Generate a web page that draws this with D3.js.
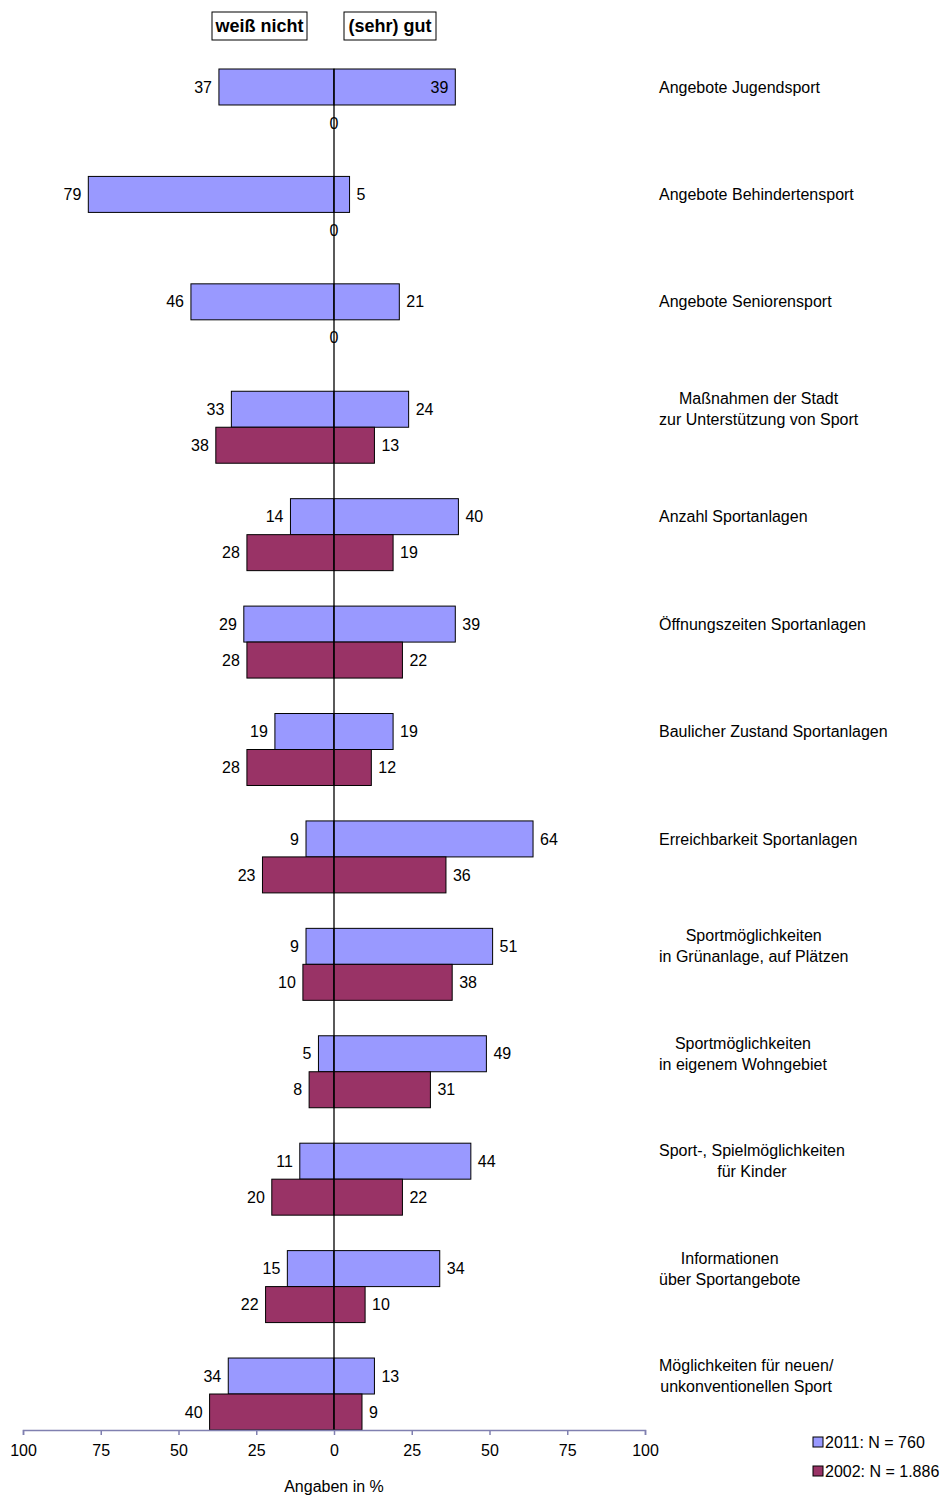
<!DOCTYPE html>
<html>
<head>
<meta charset="utf-8">
<script src="https://cdn.jsdelivr.net/npm/d3@7"></script>
<style>
  body { margin: 0; background: #fff; }
  text { font-family: "Liberation Sans", Arial, sans-serif; fill: #000; }
</style>
</head>
<body>
<div id="chart"></div>
<script>
// categories (label lines split by \n)
const categories = [
  "Angebote Jugendsport",
  "Angebote Behindertensport",
  "Angebote Seniorensport",
  "Maßnahmen der Stadt\nzur Unterstützung von Sport",
  "Anzahl Sportanlagen",
  "Öffnungszeiten Sportanlagen",
  "Baulicher Zustand Sportanlagen",
  "Erreichbarkeit Sportanlagen",
  "Sportmöglichkeiten\nin Grünanlage, auf Plätzen",
  "Sportmöglichkeiten\nin eigenem Wohngebiet",
  "Sport-, Spielmöglichkeiten\nfür Kinder",
  "Informationen\nüber Sportangebote",
  "Möglichkeiten für neuen/\nunkonventionellen Sport"
];
// "weiß nicht" (left) and "(sehr) gut" (right), in %
const weissNicht2011 = [37, 79, 46, 33, 14, 29, 19, 9, 9, 5, 11, 15, 34];
const gut2011        = [39, 5, 21, 24, 40, 39, 19, 64, 51, 49, 44, 34, 13];
const weissNicht2002 = [null, null, null, 38, 28, 28, 28, 23, 10, 8, 20, 22, 40];
const gut2002        = [null, null, null, 13, 19, 22, 12, 36, 38, 31, 22, 10, 9];
const xTicks = [-100, -75, -50, -25, 0, 25, 50, 75, 100];
const seriesNames = ["2011: N = 760", "2002: N = 1.886"];
const colors = ["#9999ff", "#993366"];

const width = 942, height = 1495;
const svg = d3.select("#chart").append("svg")
  .attr("width", width).attr("height", height);

const x = d3.scaleLinear().domain([-100, 100]).range([23, 645]);
const y = d3.scaleBand().domain(d3.range(categories.length))
  .range([69, 1430]).paddingInner(0.33).paddingOuter(0).align(0);
const bh = y.bandwidth() / 2;

// bars
const rows = categories.map((c, i) => ({
  i, c,
  series: [
    { s: 0, left: weissNicht2011[i], right: gut2011[i] },
    { s: 1, left: weissNicht2002[i], right: gut2002[i] }
  ]
}));

const g = svg.append("g");
rows.forEach(r => {
  r.series.forEach(sd => {
    const top = y(r.i) + sd.s * bh;
    if (sd.left == null) {
      // empty series shows a single 0 on the axis
      g.append("text")
        .attr("x", x(0)).attr("y", top + bh / 2)
        .attr("dy", "0.35em").attr("text-anchor", "middle")
        .style("font-size", "16px").text("0");
      return;
    }
    g.append("rect")
      .attr("x", x(-sd.left)).attr("y", top)
      .attr("width", x(0) - x(-sd.left)).attr("height", bh)
      .attr("fill", colors[sd.s]).attr("stroke", "#000").attr("stroke-width", 1);
    g.append("rect")
      .attr("x", x(0)).attr("y", top)
      .attr("width", x(sd.right) - x(0)).attr("height", bh)
      .attr("fill", colors[sd.s]).attr("stroke", "#000").attr("stroke-width", 1);

    g.append("text")
      .attr("x", x(-sd.left) - 7).attr("y", top + bh / 2)
      .attr("dy", "0.35em").attr("text-anchor", "end")
      .style("font-size", "16px").text(sd.left);
    // first row's label sits inside the bar end
    const inside = r.i === 0 && sd.s === 0;
    g.append("text")
      .attr("x", inside ? x(sd.right) - 7 : x(sd.right) + 7).attr("y", top + bh / 2)
      .attr("dy", "0.35em").attr("text-anchor", inside ? "end" : "start")
      .style("font-size", "16px").text(sd.right);
  });
});

// zero line
svg.append("line")
  .attr("x1", x(0)).attr("x2", x(0))
  .attr("y1", 69).attr("y2", 1430)
  .attr("stroke", "#000").attr("stroke-width", 1.3);

// x axis
const axis = svg.append("g")
  .attr("transform", "translate(0,1430)")
  .call(d3.axisBottom(x).tickValues(xTicks).tickFormat(d => Math.abs(d)).tickSize(5).tickPadding(10));
axis.select(".domain").attr("stroke", "#8080b0").attr("stroke-width", 1.5);
axis.selectAll(".tick line").attr("stroke", "#8080b0").attr("stroke-width", 1.5);
axis.selectAll(".tick text").style("font-size", "16px").style("font-family", "Liberation Sans, Arial, sans-serif").attr("fill", "#000");

svg.append("text")
  .attr("x", x(0)).attr("y", 1492)
  .attr("text-anchor", "middle").style("font-size", "16px")
  .text("Angaben in %");

// category labels: centered block whose left edge is at 659
rows.forEach(r => {
  const lines = r.c.split("\n");
  const cy = y(r.i) + bh / 2;
  const t = svg.append("text").style("font-size", "16px").attr("text-anchor", "middle");
  const tmp = lines.map(l => {
    const s = svg.append("text").style("font-size", "16px").text(l);
    const w = s.node().getComputedTextLength();
    s.remove();
    return w;
  });
  const cx = 659 + d3.max(tmp) / 2;
  lines.forEach((l, k) => {
    t.append("tspan")
      .attr("x", cx)
      .attr("y", cy + (k - (lines.length - 1) / 2) * 21)
      .attr("dy", "0.35em")
      .text(l);
  });
});

// header boxes
[["weiß nicht", 212, 307], ["(sehr) gut", 344, 436]].forEach(([label, x0, x1]) => {
  svg.append("rect")
    .attr("x", x0).attr("y", 12).attr("width", x1 - x0).attr("height", 28)
    .attr("fill", "#fff").attr("stroke", "#000").attr("stroke-width", 1);
  svg.append("text")
    .attr("x", (x0 + x1) / 2).attr("y", 26).attr("dy", "0.35em")
    .attr("text-anchor", "middle")
    .style("font-size", "18px").style("font-weight", "bold")
    .text(label);
});

// legend
const legend = svg.append("g").attr("transform", "translate(813,1437)");
seriesNames.forEach((n, k) => {
  const lg = legend.append("g").attr("transform", `translate(0,${k * 29})`);
  lg.append("rect").attr("width", 10).attr("height", 10)
    .attr("fill", colors[k]).attr("stroke", "#000").attr("stroke-width", 1);
  lg.append("text").attr("x", 12).attr("y", 5).attr("dy", "0.35em")
    .style("font-size", "16px").text(n);
});
</script>
</body>
</html>
